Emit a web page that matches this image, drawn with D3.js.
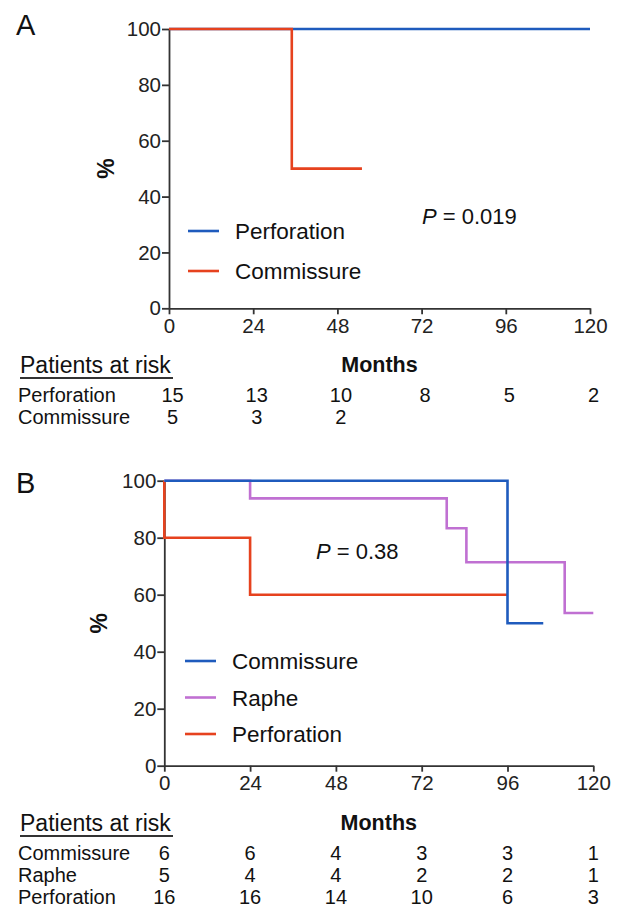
<!DOCTYPE html>
<html>
<head>
<meta charset="utf-8">
<script src="https://cdn.jsdelivr.net/npm/d3@7"></script>
<style>
  body { margin: 0; background: #fff; }
  svg { display: block; font-family: "Liberation Sans", Arial, Helvetica, sans-serif; }
  .axis path, .axis line { stroke: #333; stroke-width: 1.8; }
  .axis text { fill: #222; font-size: 20.5px; }
</style>
</head>
<body>
<svg id="chart" width="617" height="908"></svg>
<script>
// shared axis ticks
const monthTicks = [0, 24, 48, 72, 96, 120];
const pctTicks = [0, 20, 40, 60, 80, 100];

// panel A survival steps [month, %]
const aPerforation = [[0, 100], [120, 100]];
const aCommissure = [[0, 100], [35, 50], [55, 50]];
// panel A patients at risk
const aRiskPerforation = [15, 13, 10, 8, 5, 2];
const aRiskCommissure = [5, 3, 2];

// panel B survival steps [month, %]
const bCommissure = [[0, 100], [96, 50], [106, 50]];
const bRaphe = [[0, 100], [24, 93.8], [79, 83.3], [84.5, 71.4], [112, 53.6], [120, 53.6]];
const bPerforation = [[0, 100], [0, 80], [24, 60], [96, 60]];
// panel B patients at risk
const bRiskCommissure = [6, 6, 4, 3, 3, 1];
const bRiskRaphe = [5, 4, 4, 2, 2, 1];
const bRiskPerforation = [16, 16, 14, 10, 6, 3];

const blue = '#1f5bbd';
const red = '#e6421e';
const purple = '#c070d2';

const svg = d3.select('#chart');

/**
 * draws one KM panel with legend, p value and risk table
 */
function drawPanel(cfg) {
  const x = d3.scaleLinear().domain([0, 120]).range([cfg.left, cfg.right]);
  const y = d3.scaleLinear().domain([0, 100]).range([cfg.bottom, cfg.top]);
  const g = svg.append('g');

  // panel letter
  g.append('text')
    .attr('x', 16).attr('y', cfg.letterY)
    .attr('font-size', 29).attr('fill', '#111')
    .text(cfg.letter);

  g.append('g')
    .attr('class', 'axis')
    .attr('transform', `translate(0,${cfg.bottom})`)
    .call(d3.axisBottom(x).tickValues(monthTicks).tickSize(6).tickSizeOuter(0).tickPadding(4));
  g.append('g')
    .attr('class', 'axis')
    .attr('transform', `translate(${cfg.left},0)`)
    .call(d3.axisLeft(y).tickValues(pctTicks).tickSize(7).tickSizeOuter(0).tickPadding(1));

  // y label
  g.append('text')
    .attr('transform', `translate(${cfg.pctX},${(cfg.top + cfg.bottom) / 2}) rotate(-90)`)
    .attr('text-anchor', 'middle')
    .attr('font-size', 23).attr('font-weight', 'bold').attr('fill', '#111')
    .text('%');

  const line = d3.line()
    .x(d => x(d[0]))
    .y(d => y(d[1]))
    .curve(d3.curveStepAfter);

  cfg.series.forEach((s) => {
    g.append('path')
      .datum(s.data)
      .attr('fill', 'none')
      .attr('stroke', s.color)
      .attr('stroke-width', 2.6)
      .attr('d', line);
  });

  // legend
  cfg.legend.forEach((s, i) => {
    const ly = cfg.legendY + i * cfg.legendStep;
    g.append('line')
      .attr('x1', cfg.legendX).attr('x2', cfg.legendX + 31)
      .attr('y1', ly).attr('y2', ly)
      .attr('stroke', s.color).attr('stroke-width', 2.6);
    g.append('text')
      .attr('x', cfg.legendX + 47).attr('y', ly + 8)
      .attr('font-size', 22.5).attr('fill', '#111')
      .text(s.name);
  });

  // p value
  const p = g.append('text')
    .attr('x', cfg.pX).attr('y', cfg.pY)
    .attr('font-size', 22).attr('fill', '#111');
  p.append('tspan').attr('font-style', 'italic').text('P');
  p.append('tspan').text(` = ${cfg.pValue}`);

  // risk table header
  g.append('text')
    .attr('x', 20).attr('y', cfg.headY)
    .attr('font-size', 23).attr('fill', '#111')
    .text('Patients at risk');
  g.append('line')
    .attr('x1', 20).attr('x2', 173)
    .attr('y1', cfg.headY + 5).attr('y2', cfg.headY + 5)
    .attr('stroke', '#333').attr('stroke-width', 2);
  g.append('text')
    .attr('x', (cfg.left + cfg.right) / 2).attr('y', cfg.headY - 1)
    .attr('text-anchor', 'middle')
    .attr('font-size', 21.5).attr('font-weight', 'bold').attr('fill', '#111')
    .text('Months');

  cfg.risk.forEach((r, i) => {
    const ry = cfg.rowY + i * cfg.rowStep;
    g.append('text')
      .attr('x', 18).attr('y', ry)
      .attr('font-size', 20).attr('fill', '#111')
      .text(r.name);
    g.selectAll(null)
      .data(r.values)
      .enter()
      .append('text')
      .attr('x', (d, j) => x(monthTicks[j]) + cfg.numShift)
      .attr('y', ry)
      .attr('text-anchor', 'middle')
      .attr('font-size', 20).attr('fill', '#111')
      .text(d => d);
  });
}

drawPanel({
  letter: 'A', letterY: 35,
  left: 169, right: 590, top: 29, bottom: 308.3,
  pctX: 114,
  series: [
    { data: aPerforation, color: blue },
    { data: aCommissure, color: red },
  ],
  legend: [
    { name: 'Perforation', color: blue },
    { name: 'Commissure', color: red },
  ],
  legendX: 188, legendY: 231, legendStep: 40,
  pX: 422, pY: 224, pValue: '0.019',
  headY: 373,
  rowY: 402, rowStep: 22, numShift: 3.5,
  risk: [
    { name: 'Perforation', values: aRiskPerforation },
    { name: 'Commissure', values: aRiskCommissure },
  ],
});

drawPanel({
  letter: 'B', letterY: 493,
  left: 164.3, right: 593.3, top: 480.7, bottom: 765.7,
  pctX: 106.7,
  series: [
    { data: bPerforation, color: red },
    { data: bRaphe, color: purple },
    { data: bCommissure, color: blue },
  ],
  legend: [
    { name: 'Commissure', color: blue },
    { name: 'Raphe', color: purple },
    { name: 'Perforation', color: red },
  ],
  legendX: 185, legendY: 661, legendStep: 36.5,
  pX: 316, pY: 559, pValue: '0.38',
  headY: 831,
  rowY: 860, rowStep: 22, numShift: 0,
  risk: [
    { name: 'Commissure', values: bRiskCommissure },
    { name: 'Raphe', values: bRiskRaphe },
    { name: 'Perforation', values: bRiskPerforation },
  ],
});
</script>
</body>
</html>
